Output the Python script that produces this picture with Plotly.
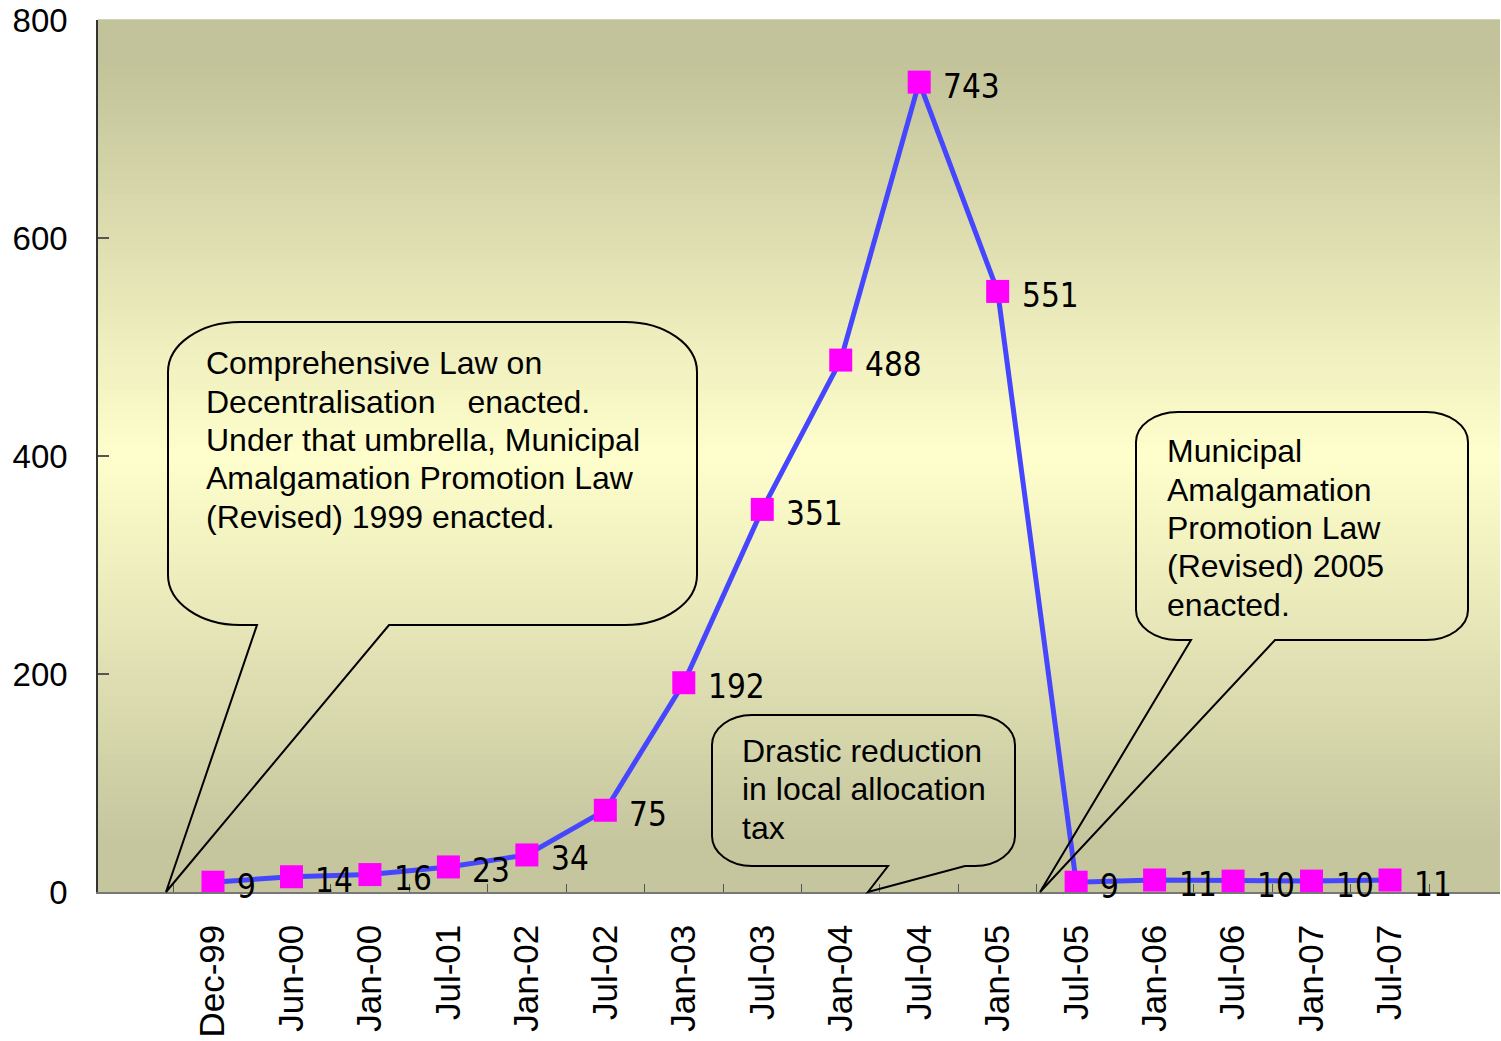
import plotly.graph_objects as go

# ---------------- data ----------------
categories = ["Dec-99", "Jun-00", "Jan-00", "Jul-01", "Jan-02", "Jul-02", "Jan-03", "Jul-03",
              "Jan-04", "Jul-04", "Jan-05", "Jul-05", "Jan-06", "Jul-06", "Jan-07", "Jul-07"]
values = [9, 14, 16, 23, 34, 75, 192, 351, 488, 743, 551, 9, 11, 10, 10, 11]
y_ticks = [0, 200, 400, 600, 800]

callout_left = ["Comprehensive Law on",
                "Decentralisation\u3000enacted.",
                "Under that umbrella, Municipal",
                "Amalgamation Promotion Law",
                "(Revised) 1999 enacted."]
callout_mid = ["Drastic reduction", "in local allocation", "tax"]
callout_right = ["Municipal", "Amalgamation", "Promotion Law", "(Revised) 2005", "enacted."]

# ---------------- layout geometry (pixels) ----------------
W, H = 1501, 1041
PL, PR, PT, PB = 98, 1500, 20, 892


def px(x):
    return (x - PL) / (PR - PL)


def py(y):
    return (PB - y) / (PB - PT)


def callout_path(L, T, R, B, rx, ry, g1, g2, tx, ty):
    k = 0.552
    pts = []
    pts.append(f"M{px(L + rx)},{py(T)}")
    pts.append(f"L{px(R - rx)},{py(T)}")
    pts.append(f"C{px(R - rx + k * rx)},{py(T)} {px(R)},{py(T + ry - k * ry)} {px(R)},{py(T + ry)}")
    pts.append(f"L{px(R)},{py(B - ry)}")
    pts.append(f"C{px(R)},{py(B - ry + k * ry)} {px(R - rx + k * rx)},{py(B)} {px(R - rx)},{py(B)}")
    pts.append(f"L{px(g2)},{py(B)}")
    pts.append(f"L{px(tx)},{py(ty)}")
    pts.append(f"L{px(g1)},{py(B)}")
    pts.append(f"L{px(L + rx)},{py(B)}")
    pts.append(f"C{px(L + rx - k * rx)},{py(B)} {px(L)},{py(B - ry + k * ry)} {px(L)},{py(B - ry)}")
    pts.append(f"L{px(L)},{py(T + ry)}")
    pts.append(f"C{px(L)},{py(T + ry - k * ry)} {px(L + rx - k * rx)},{py(T)} {px(L + rx)},{py(T)}")
    pts.append("Z")
    return " ".join(pts)


shapes = []

# background gradient (olive -> pale yellow -> olive)
dark_top = (195, 195, 155)
dark_bot = (197, 197, 158)
light = (255, 255, 204)
N = 120
for i in range(N):
    t0 = i / N
    t1 = (i + 1) / N
    t = (t0 + t1) / 2  # 0 bottom, 1 top
    d = abs(t - 0.5) / 0.45
    f = max(0.0, min(1.0, 1 - d))
    dark = dark_top if t > 0.5 else dark_bot
    c = tuple(int(round(dark[j] + (light[j] - dark[j]) * f)) for j in range(3))
    shapes.append(dict(type="rect", xref="paper", yref="paper", x0=0, x1=1, y0=t0, y1=t1 + 0.001,
                       fillcolor=f"rgb{c}", line=dict(width=0), layer="below"))

# callouts
for geo in [
    (168, 322, 697, 625, 72, 50, 257, 389, 166, 892),
    (712, 715, 1015, 866, 40, 30, 888, 965, 868, 892),
    (1136, 412, 1468, 640, 42, 30, 1191, 1275, 1040, 892),
]:
    shapes.append(dict(type="path", xref="paper", yref="paper", path=callout_path(*geo),
                       line=dict(color="black", width=2), fillcolor="rgba(0,0,0,0)", layer="above"))

annotations = []
TEXT_FONT = dict(family="Liberation Sans, Arial, sans-serif", size=32, color="black")
for lines, x0, ys in [
    (callout_left, 204, [363, 402, 440, 478, 517]),
    (callout_mid, 740, [751, 789, 828]),
    (callout_right, 1165, [451, 490, 528, 566, 605]),
]:
    for line, yc in zip(lines, ys):
        annotations.append(dict(xref="paper", yref="paper", x=px(x0), y=py(yc), text=line,
                                showarrow=False, xanchor="left", yanchor="middle",
                                font=TEXT_FONT, align="left"))

# data labels: to the right of each marker, slightly below its centre
LABEL_FONT = dict(family="Liberation Sans Narrow, DejaVu Sans Condensed, Arial Narrow, sans-serif",
                  size=33, color="black")
for cat, v in zip(categories, values):
    annotations.append(dict(xref="x", yref="y", x=cat, y=v, text=str(v), showarrow=False,
                            xanchor="left", yanchor="middle", xshift=22, yshift=-4,
                            font=LABEL_FONT))

fig = go.Figure()
fig.add_trace(go.Scatter(
    x=categories, y=values,
    mode="lines+markers",
    line=dict(color="#4646ff", width=5),
    marker=dict(symbol="square", size=23, color="#ff00ff", line=dict(width=0)),
    cliponaxis=False,
    showlegend=False,
    hoverinfo="x+y",
))

# category axis placed so Dec-99 sits at ~213px and Jul-07 at ~1390px
unit = (1390 - 213) / (len(categories) - 1)
x_lo = (PL - 213) / unit
x_hi = (PR - 213) / unit

fig.update_layout(
    width=W, height=H,
    margin=dict(l=PL, r=W - PR, t=PT, b=H - PB),
    paper_bgcolor="white",
    plot_bgcolor="rgba(0,0,0,0)",
    shapes=shapes,
    annotations=annotations,
    xaxis=dict(
        type="category",
        categoryorder="array", categoryarray=categories,
        range=[x_lo, x_hi],
        tickson="boundaries",
        ticks="inside", ticklen=8, tickwidth=1, tickcolor="#555",
        showline=True, linecolor="#777", linewidth=1.5,
        showgrid=False, zeroline=False,
        tickangle=-90,
        tickfont=dict(family="Liberation Sans, Arial, sans-serif", size=35, color="black"),
        ticklabelstandoff=17,
    ),
    yaxis=dict(
        range=[0, 800],
        tickmode="array", tickvals=y_ticks, ticktext=[str(v) for v in y_ticks],
        ticks="inside", ticklen=11, tickwidth=1.5, tickcolor="#555",
        showline=True, linecolor="#333", linewidth=1.5,
        showgrid=False, zeroline=False,
        tickfont=dict(family="Liberation Sans, Arial, sans-serif", size=33, color="black"),
        ticklabelstandoff=22,
    ),
)

fig.write_html("out.html")
